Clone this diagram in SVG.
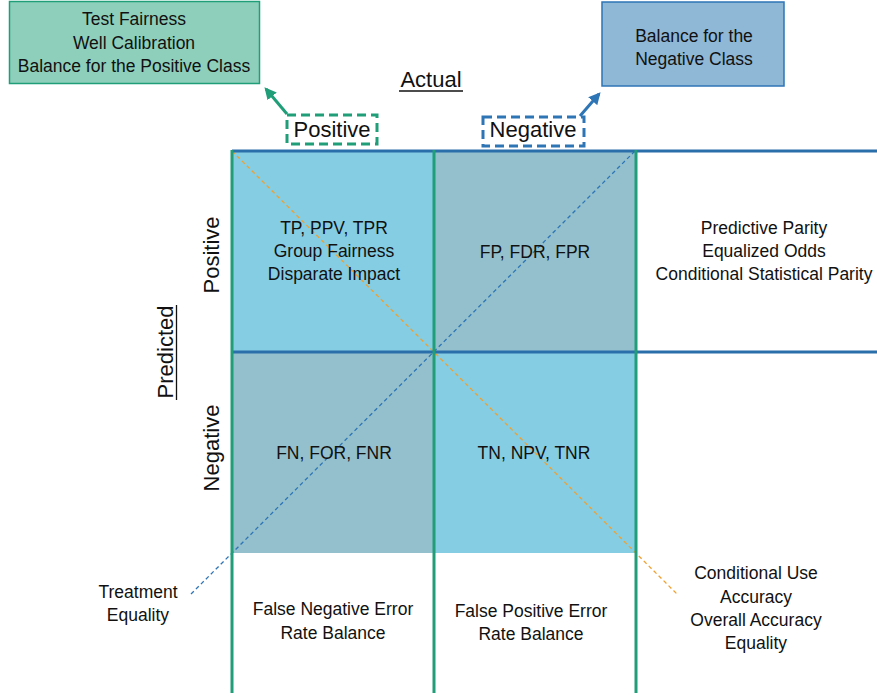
<svg xmlns="http://www.w3.org/2000/svg" width="877" height="696" viewBox="0 0 877 696">
<defs>
<style>
text{font-family:"Liberation Sans",Arial,sans-serif;fill:#111;text-anchor:middle}
.s{font-size:17.5px}
.b{font-size:22px}
.g{stroke:#1f9e78;stroke-width:3;fill:none}
.h{stroke:#2a6fa9;stroke-width:3;fill:none}
.lc{fill:#85cde3}
.dc{fill:#93c0cc}
</style>
<marker id="ag" viewBox="0 0 10 10" refX="8" refY="5" markerWidth="4" markerHeight="4" orient="auto"><path d="M0,0 L10,5 L0,10 z" fill="#1f9e78"/></marker>
<marker id="ab" viewBox="0 0 10 10" refX="8" refY="5" markerWidth="4" markerHeight="4" orient="auto"><path d="M0,0 L10,5 L0,10 z" fill="#2e75b6"/></marker>
</defs>
<rect width="877" height="696" fill="#fff"/>

<g id="cells">
<rect class="lc" x="232" y="151" width="202" height="201"/>
<rect class="dc" x="434" y="151" width="202" height="201"/>
<rect class="dc" x="232" y="352" width="202" height="201"/>
<rect class="lc" x="434" y="352" width="202" height="201"/>
</g>

<g id="diagonals">
<line x1="191" y1="594" x2="635" y2="151" stroke="#2e75b6" stroke-width="1.3" stroke-dasharray="4 3"/>
<line x1="232" y1="151" x2="678" y2="595" stroke="#f0a030" stroke-width="1.3" stroke-dasharray="4 3"/>
</g>

<g id="grid">
<line class="h" x1="232" y1="151" x2="877" y2="151"/>
<line class="h" x1="232" y1="352" x2="877" y2="352"/>
<line class="g" x1="232" y1="150" x2="232" y2="693"/>
<line class="g" x1="434" y1="150" x2="434" y2="693"/>
<line class="g" x1="636" y1="150" x2="636" y2="693"/>
</g>

<g id="connectors">
<line x1="287" y1="114" x2="266" y2="89" stroke="#1f9e78" stroke-width="3" marker-end="url(#ag)"/>
<line x1="580" y1="116" x2="599" y2="94" stroke="#2e75b6" stroke-width="3" marker-end="url(#ab)"/>
</g>

<g id="box-positive-class">
<rect x="9.5" y="1.5" width="250" height="82" fill="#8ecfbb" stroke="#1f9e78" stroke-width="1.5"/>
<text class="s" x="134" y="25">Test Fairness</text>
<text class="s" x="134" y="49">Well Calibration</text>
<text class="s" x="134" y="72">Balance for the Positive Class</text>
</g>

<g id="box-negative-class">
<rect x="602" y="2" width="182" height="84" fill="#8fb7d6" stroke="#2e75b6" stroke-width="1.5"/>
<text class="s" x="694" y="42">Balance for the</text>
<text class="s" x="694" y="65">Negative Class</text>
</g>

<g id="actual-label">
<text class="b" x="431" y="87">Actual</text>
<line x1="399" y1="91" x2="463" y2="91" stroke="#111" stroke-width="1.3"/>
</g>

<g id="actual-positive">
<rect x="287" y="115" width="90" height="29" fill="none" stroke="#1f9e78" stroke-width="3" stroke-dasharray="9 5"/>
<text class="b" x="332" y="137">Positive</text>
</g>

<g id="actual-negative">
<rect x="483" y="117" width="101" height="29" fill="none" stroke="#2e75b6" stroke-width="3" stroke-dasharray="9 5"/>
<text class="b" x="533" y="137">Negative</text>
</g>

<g id="predicted-label">
<text class="b" transform="translate(173,352) rotate(-90)">Predicted</text>
<line x1="176.5" y1="305" x2="176.5" y2="400" stroke="#111" stroke-width="1.3"/>
</g>
<g id="predicted-positive">
<text class="b" transform="translate(219,255) rotate(-90)">Positive</text>
</g>
<g id="predicted-negative">
<text class="b" transform="translate(219,448) rotate(-90)">Negative</text>
</g>

<g id="cell-tp">
<text class="s" x="334" y="234">TP, PPV, TPR</text>
<text class="s" x="334" y="257">Group Fairness</text>
<text class="s" x="334" y="280">Disparate Impact</text>
</g>
<g id="cell-fp">
<text class="s" x="535" y="258">FP, FDR, FPR</text>
</g>
<g id="cell-fn">
<text class="s" x="334" y="459">FN, FOR, FNR</text>
</g>
<g id="cell-tn">
<text class="s" x="534" y="459">TN, NPV, TNR</text>
</g>

<g id="row-positive-metrics">
<text class="s" x="764" y="234">Predictive Parity</text>
<text class="s" x="764" y="257">Equalized Odds</text>
<text class="s" x="764" y="280">Conditional Statistical Parity</text>
</g>

<g id="treatment-equality">
<text class="s" x="138" y="598">Treatment</text>
<text class="s" x="138" y="621">Equality</text>
</g>
<g id="fner-balance">
<text class="s" x="333" y="615">False Negative Error</text>
<text class="s" x="333" y="639">Rate Balance</text>
</g>
<g id="fper-balance">
<text class="s" x="531" y="617">False Positive Error</text>
<text class="s" x="531" y="640">Rate Balance</text>
</g>
<g id="accuracy-metrics">
<text class="s" x="756" y="579">Conditional Use</text>
<text class="s" x="756" y="603">Accuracy</text>
<text class="s" x="756" y="626">Overall Accuracy</text>
<text class="s" x="756" y="649">Equality</text>
</g>
</svg>
